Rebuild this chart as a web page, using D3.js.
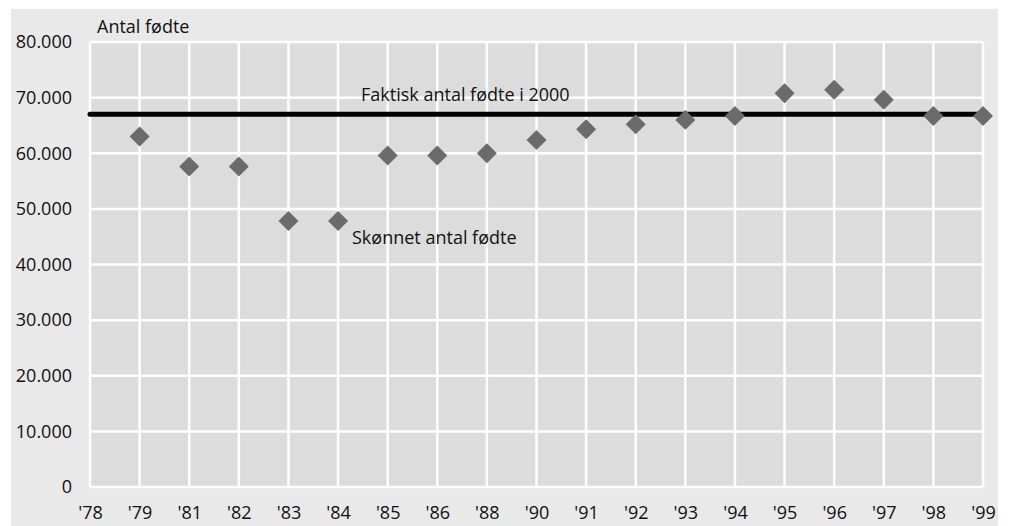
<!DOCTYPE html>
<html>
<head>
<meta charset="utf-8">
<script src="https://cdn.jsdelivr.net/npm/d3@7"></script>
<style>
  body { margin: 0; background: #fff; }
  svg text { font-family: "Open Sans", sans-serif; fill: #111; }
</style>
</head>
<body>
<svg width="1010" height="526"></svg>
<script>
// years on the x axis ('78 has no estimate)
var years = ["'78", "'79", "'81", "'82", "'83", "'84", "'85", "'86", "'88", "'90",
             "'91", "'92", "'93", "'94", "'95", "'96", "'97", "'98", "'99"];
// estimated number of births
var estimated = [null, 63000, 57600, 57600, 47800, 47800, 59600, 59600, 60000, 62400,
                 64300, 65200, 66000, 66700, 70800, 71400, 69600, 66700, 66700];
var actual2000 = 67000;
var yTicks = [0, 10000, 20000, 30000, 40000, 50000, 60000, 70000, 80000];

var svg = d3.select("svg");
var margin = {left: 90, right: 27, top: 42, bottom: 39};
var width = 1010 - margin.left - margin.right,
    height = 526 - margin.top - margin.bottom;

// outer grey panel
svg.append("rect")
    .attr("x", 11).attr("y", 9)
    .attr("width", 987).attr("height", 517)
    .attr("fill", "#e9e9e9");

var g = svg.append("g").attr("transform", "translate(" + margin.left + "," + margin.top + ")");

var x = d3.scalePoint().domain(years).range([0, width]).padding(0);
var y = d3.scaleLinear().domain([0, 80000]).range([height, 0]);

g.append("rect")
    .attr("width", width).attr("height", height)
    .attr("fill", "#dcdcdc");

// grid
g.append("g").selectAll("line")
    .data(years)
    .enter().append("line")
    .attr("x1", function (d) { return x(d); })
    .attr("x2", function (d) { return x(d); })
    .attr("y1", 0).attr("y2", height)
    .attr("stroke", "#fff").attr("stroke-width", 2.5);

g.append("g").selectAll("line")
    .data(yTicks)
    .enter().append("line")
    .attr("x1", 0).attr("x2", width)
    .attr("y1", function (d) { return y(d); })
    .attr("y2", function (d) { return y(d); })
    .attr("stroke", "#fff").attr("stroke-width", 2.5);

// axes labels
var fmt = d3.formatLocale({decimal: ",", thousands: ".", grouping: [3], currency: ["", ""]}).format(",");

var yAxis = g.append("g")
    .call(d3.axisLeft(y).tickValues(yTicks).tickSize(0).tickPadding(18).tickFormat(fmt));
yAxis.select(".domain").remove();
yAxis.selectAll("text").style("font-size", "18px").attr("fill", "#111");

// labels sit a little higher than in the original so they are not cut at the bottom
var xAxis = g.append("g")
    .attr("transform", "translate(0," + height + ")")
    .call(d3.axisBottom(x).tickSize(0).tickPadding(19));
xAxis.select(".domain").remove();
xAxis.selectAll("text").style("font-size", "18px").attr("fill", "#111");

// actual births line
g.append("line")
    .attr("x1", 0).attr("x2", width)
    .attr("y1", y(actual2000)).attr("y2", y(actual2000))
    .attr("stroke", "#000").attr("stroke-width", 5)
    .attr("stroke-linecap", "round");

// estimated points as diamonds
g.append("g").selectAll("path")
    .data(years.map(function (d, i) { return {year: d, value: estimated[i]}; })
        .filter(function (d) { return d.value != null; }))
    .enter().append("path")
    .attr("d", d3.symbol().type(d3.symbolSquare).size(200))
    .attr("transform", function (d) {
        return "translate(" + x(d.year) + "," + y(d.value) + ") rotate(45)";
    })
    .attr("fill", "#6b6b6b");

// annotations
svg.append("text").attr("x", 97).attr("y", 33).style("font-size", "18px").text("Antal fødte");
svg.append("text").attr("x", 361).attr("y", 101).style("font-size", "18px").text("Faktisk antal fødte i 2000");
svg.append("text").attr("x", 352).attr("y", 244).style("font-size", "18px").text("Skønnet antal fødte");
</script>
</body>
</html>
